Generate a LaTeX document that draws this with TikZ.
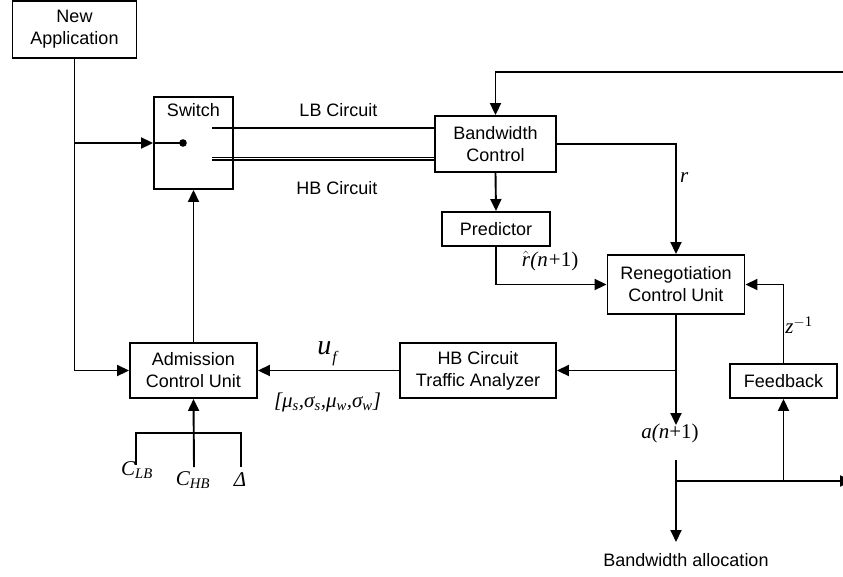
\documentclass[tikz,border=0pt]{standalone}
\usepackage{fontspec}
\setmainfont{Liberation Sans}
\newfontfamily\serif{Liberation Serif}
\usetikzlibrary{arrows.meta}
\tikzset{
  box/.style={draw, line width=1.9pt, inner sep=0pt, align=center,
    font=\fontsize{18}{22}\selectfont},
  conn/.style={line width=1.9pt},
  arr/.style={conn, -{Triangle[length=12pt,width=11pt]}},
  txt/.style={inner sep=0pt, font=\fontsize{18}{22}\selectfont},
  mlab/.style={inner sep=0pt, font=\fontsize{21}{22}\selectfont\serif\itshape},
}
\begin{document}
\begin{tikzpicture}[x=1pt,y=-1pt]
\useasboundingbox (0,0) rectangle (843,576);
\clip (0,0) rectangle (843,576);
% boxes
\node[box, minimum width=124pt, minimum height=57pt] (newapp) at (74.5,29.5) {New\\Application};
\node[box, minimum width=79pt, minimum height=92pt] (sw) at (193.5,143) {};
\node[txt] (swlab) at (193.5,110) {Switch};
\node[box, minimum width=121pt, minimum height=56pt] (bwc) at (495.5,144) {Bandwidth\\Control};
\node[box, minimum width=108pt, minimum height=34pt] (pred) at (496,229) {Predictor};
\node[box, minimum width=137pt, minimum height=59pt] (reneg) at (676,284.5) {Renegotiation\\Control Unit};
\node[box, minimum width=107pt, minimum height=34pt] (fb) at (783.5,381) {Feedback};
\node[box, minimum width=156pt, minimum height=55pt] (hbta) at (478,370.5) {HB Circuit\\Traffic Analyzer};
\node[box, minimum width=127pt, minimum height=55pt] (adm) at (193.5,370.5) {Admission\\Control Unit};
% coordinates
\coordinate (swdot) at (183,143);
\coordinate (j1) at (newapp.south |- sw.west);
\coordinate (lbs) at (212,128);
\coordinate (lbe) at (bwc.west |- lbs);
\coordinate (topr) at (843,71.7);
\coordinate (an1) at (676,425);
\coordinate (j2) at (676,370.5);
\coordinate (b1) at (676,460);
\coordinate (b2) at (676,542);
\coordinate (j3) at (676,481);
\coordinate (j4) at (fb.south |- j3);
\coordinate (bre) at (852,481);
\coordinate (cin) at (194,467);
\coordinate (cl) at (136,465);
\coordinate (cr) at (241,467);
\coordinate (ctop) at (194,433);
% switch internals
\fill (swdot) circle (3.8pt);
\draw[conn] (sw.west) -- (swdot);
\draw[line width=2.6pt] (lbs) -- (lbe);
\foreach \dy in {157.4,159.1,160.8}
  \draw[line width=0.75pt] (212,\dy) -- (435,\dy);
\node[txt] (lbl) at (338.5,110) {LB Circuit};
\node[txt] (hbl) at (337,188.5) {HB Circuit};
% connectors
\draw[arr] (newapp.south) |- (adm.west);
\draw[arr] (j1) -- (sw.west);
\draw[arr] (adm.north) -- (sw.south);
\draw[arr] (topr) -| (bwc.north);
\draw[arr] (bwc.east) -| (reneg.north);
\node[mlab, anchor=west] (rl) at (680,178) {r};
\draw[arr] (bwc.south) -- (pred.north);
\draw[arr] (pred.south) |- (reneg.west);
\node[mlab] (rhat) at (550,261) {$\hat{\mbox{\serif\itshape r}}$\kern0.5pt(\textit{n}\kern1pt\upshape+1)};
\draw[arr] (fb.north) |- (reneg.east);
\node[mlab] (zl) at (799,325) {z\textsuperscript{\upshape\ensuremath{-}1}};
\draw[arr] (reneg.south) -- (an1);
\draw[arr] (j2) -- (hbta.east);
\node[mlab] (al) at (670,433) {a(n\upshape+1)};
\draw[arr] (hbta.west) -- (adm.east);
\node[inner sep=0pt, font=\fontsize{28}{28}\selectfont\serif\itshape] (uf) at (327,354) {u\raisebox{-0.3em}{\fontsize{16}{16}\selectfont\kern1pt f}};
\node[mlab] (mu) at (327.5,402) {[μ\textsubscript{s},σ\textsubscript{s},μ\textsubscript{w},σ\textsubscript{w}]};
% bottom left inputs
\draw[arr] (cin) -- (adm.south);
\draw[conn] (cl) |- (ctop) -| (cr);
\node[mlab] (clb) at (137,470) {C\textsubscript{LB}};
\node[mlab] (chb) at (193,480) {C\textsubscript{HB}};
\node[mlab] (dl) at (240,480) {Δ};
% bottom right
\draw[arr] (b1) -- (b2);
\draw[arr] (j3) -- (bre);
\draw[arr] (j4) -- (fb.south);
\node[txt] (bwa) at (686,560) {Bandwidth allocation};
\end{tikzpicture}
\end{document}
